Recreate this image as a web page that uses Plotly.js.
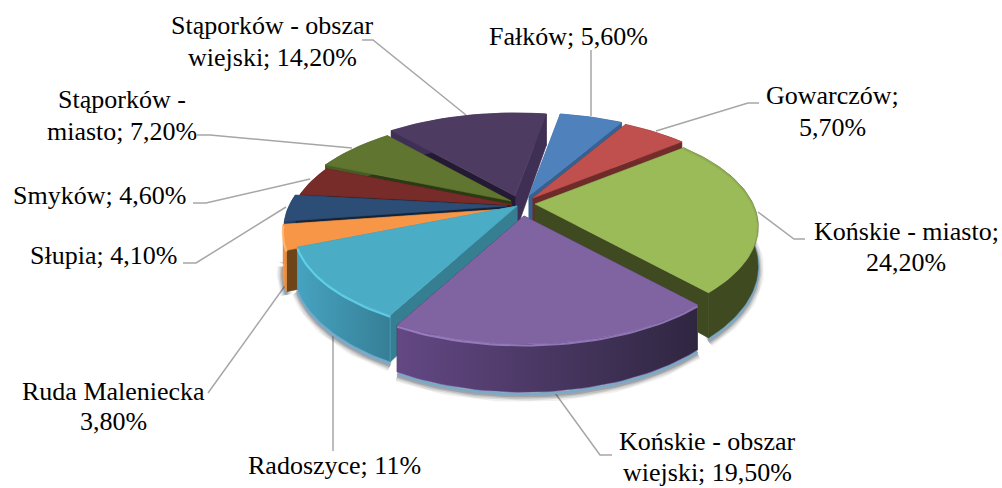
<!DOCTYPE html>
<html><head><meta charset="utf-8">
<script src="https://cdn.plot.ly/plotly-3.0.1.min.js"></script>
<style>html,body{margin:0;padding:0;background:#fff}#c{width:1002px;height:488px}</style>
</head><body><div id="c"></div>
<script>
// ---- data ----
var categories = ['Fałków','Gowarczów','Końskie - miasto','Końskie - obszar wiejski','Radoszyce','Ruda Maleniecka','Słupia','Smyków','Stąporków - miasto','Stąporków - obszar wiejski'];
var shares = [5.6,5.7,24.2,19.5,11,3.8,4.1,4.6,7.2,14.2];
var labelLines = [['Fałków; 5,60%'],['Gowarczów;','5,70%'],['Końskie - miasto;','24,20%'],['Końskie - obszar','wiejski; 19,50%'],['Radoszyce; 11%'],['Ruda Maleniecka','3,80%'],['Słupia; 4,10%'],['Smyków; 4,60%'],['Stąporków -','miasto; 7,20%'],['Stąporków - obszar','wiejski; 14,20%']];
// ---- style ----
var topColors = ['#4f81bd','#c0504d','#9bbb59','#8064a2','#4bacc6','#f79646','#2c4d75','#772c2a','#5f7530','#4d3b62'];
var wallStart = ['#3a6496','#7a2e2c','#3f4a20','#332844','#367f93','#6e4518','#12243c','#3c1413','#2c3a14','#241a33'];
var wallEnd   = ['#36608f','#6f2b29','#3f4a20','#332844','#3f92ab','#7a4a1c','#1f3858','#571f1e','#465824','#3f2f54'];
var rimLeft   = ['#3a6496','#7a2e2c','#3f4a20','#634884','#46a3c0','#f79a48','#24406a','#5f2322','#4c5e26','#3f2f54'];
var rimRight  = ['#36608f','#6f2b29','#3f4a20','#2f2640','#367f96','#e58a3e','#1f3858','#571f1e','#465824','#3f2f54'];
var bevels    = [null,null,'rgba(60,75,30,0.12)','rgba(165,135,205,0.8)','rgba(100,215,240,0.85)','rgba(255,190,120,0.8)',null,null,null,null];
var explodeX = [6,10,12,1,-6,-17,-16,-11,-12,-8];
var explodeY = [-9,-7,-1,11,1,4,1,0,-4,-9];
var labelX = [568,832,906,707,334,113,103,99,122,272];
var labelY = [[36],[95,127],[231,262],[441,472],[465],[391,421],[255],[195],[99,131],[25,57]];
var leaders = [
 [[591,50],[591,116]],
 [[759,103],[748,103],[656,131]],
 [[805,239],[794,239],[758,212]],
 [[612,455],[600,455],[555,393]],
 [[333,451],[333,332]],
 [[208,393],[287,283]],
 [[183,263],[196,263],[286,207]],
 [[193,203],[206,203],[310,179]],
 [[197,135],[210,135],[352,148]],
 [[362,40],[373,40],[466,115]]
];
// ---- geometry ----
var cx=523, cy=205, Rx=218, Ry=100.7, K=0.213, H=38, startDeg=10;
var total = shares.reduce(function(a,b){return a+b},0);
function rad(d){return d*Math.PI/180}
function proj(deg,r,ox,oy,z){
  var X=Math.sin(rad(deg))*r, Y=-Math.cos(rad(deg))*r, s=1/(1-K*Y);
  return [cx+ox+Rx*X*s, cy+oy+Ry*Y*s+(z||0)*s];
}
var slices=[], acc=startDeg;
shares.forEach(function(v,i){
  var a=acc, b=acc+v/total*360; acc=b;
  var m=(a+b)/2;
  slices.push({i:i,a:a,b:b,m:m,ox:explodeX[i],oy:explodeY[i],depth:-Math.cos(rad(m))});
});
function arc(s,z,r,a,b){
  var pts=[], A=a===undefined?s.a:a, B=b===undefined?s.b:b, n=Math.max(6,Math.ceil((B-A)/1.5));
  for(var k=0;k<=n;k++){pts.push(proj(A+(B-A)*k/n,r===undefined?1:r,s.ox,s.oy,z));}
  return pts;
}
function poly(pts,fill,extra){
  var t={type:'scatter',mode:'lines',x:pts.map(function(p){return p[0]}).concat([pts[0][0]]),
    y:pts.map(function(p){return p[1]}).concat([pts[0][1]]),fill:'toself',fillcolor:fill,
    line:{width:0.6,color:fill},hoverinfo:'skip',showlegend:false};
  for(var k in extra){t[k]=extra[k]}
  return t;
}
function line(pts,color,w){
  return {type:'scatter',mode:'lines',x:pts.map(function(p){return p[0]}),y:pts.map(function(p){return p[1]}),
    line:{width:w,color:color,shape:'linear'},hoverinfo:'skip',showlegend:false};
}
var traces=[];
// soft shadow + pale base rim under the front of the pie
[[12,0.07],[9,0.10],[6,0.14],[3,0.2]].forEach(function(o){
  slices.forEach(function(s){
    var A=Math.max(s.a,60),B=Math.min(s.b,262);
    if(B>A){traces.push(line(arc(s,H+3,1.0,A,B),'rgba(40,40,40,'+o[1]+')',o[0]));}
  });
});
slices.forEach(function(s){
  var A=Math.max(s.a,60),B=Math.min(s.b,250);
  if(B>A){traces.push(line(arc(s,H+1.5,1.0,A,B),'#7da9c9',3));}
});
// slices painted back to front
slices.slice().sort(function(p,q){return p.depth-q.depth}).forEach(function(s){
  var i=s.i, apex=proj(0,0,s.ox,s.oy,0), apexB=proj(0,0,s.ox,s.oy,H);
  var sa=proj(s.a,1,s.ox,s.oy,0), sab=proj(s.a,1,s.ox,s.oy,H);
  var sb=proj(s.b,1,s.ox,s.oy,0), sbb=proj(s.b,1,s.ox,s.oy,H);
  var walls=[{p:[apex,sa,sab,apexB],c:wallStart[i],d:-Math.cos(rad(s.a))},{p:[apex,sb,sbb,apexB],c:wallEnd[i],d:-Math.cos(rad(s.b))}];
  walls.sort(function(p,q){return p.d-q.d});
  walls.forEach(function(w){traces.push(poly(w.p,w.c));});
  var rim=arc(s,0).concat(arc(s,H).reverse());
  traces.push(poly(rim,rimLeft[i],{fillgradient:{type:'horizontal',colorscale:[[0,rimLeft[i]],[1,rimRight[i]]]}}));
  traces.push(poly([apex].concat(arc(s,0)),topColors[i]));
  if(bevels[i]){traces.push(line(arc(s,1.2),bevels[i],2.2));}
});
var shapes=leaders.map(function(l){
  return {type:'path',xref:'x',yref:'y',path:'M'+l.map(function(p){return p[0]+','+p[1]}).join('L'),
    line:{color:'#a6a6a6',width:1.5},layer:'below'};
});
var annotations=[];
labelLines.forEach(function(lines,i){
  lines.forEach(function(t,j){
    annotations.push({xref:'x',yref:'y',x:labelX[i],y:labelY[i][j],text:t,showarrow:false,xanchor:'center',yanchor:'middle',
      align:'center',font:{family:'"Liberation Serif","Times New Roman",serif',size:26,color:'#000'}});
  });
});
Plotly.newPlot('c',traces,{
  width:1002,height:488,margin:{l:0,r:0,t:0,b:0},paper_bgcolor:'#fff',plot_bgcolor:'#fff',showlegend:false,
  xaxis:{range:[0,1002],visible:false,fixedrange:true},
  yaxis:{range:[488,0],visible:false,fixedrange:true},
  shapes:shapes,annotations:annotations
},{displayModeBar:false,staticPlot:true});
</script></body></html>
